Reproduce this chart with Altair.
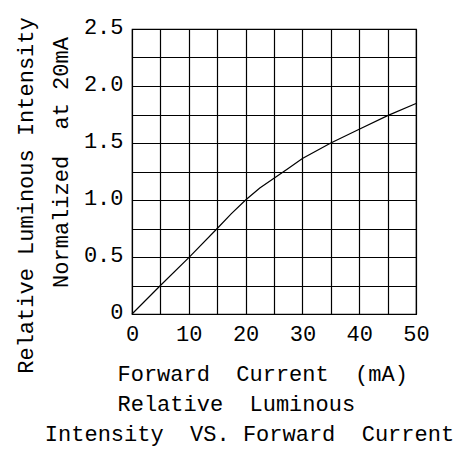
import altair as alt
import pandas as pd

# Forward current (mA) and relative luminous intensity
current = [0, 5, 10, 15, 17.5, 20, 22.5, 25, 27.5, 30, 35, 40, 45, 50]
intensity = [0, 0.25, 0.495, 0.75, 0.88, 1.0, 1.105, 1.19, 1.276, 1.364, 1.5, 1.62, 1.74, 1.847]

x_ticks = [0, 5, 10, 15, 20, 25, 30, 35, 40, 45, 50]
y_ticks = [0, 0.25, 0.5, 0.75, 1.0, 1.25, 1.5, 1.75, 2.0, 2.25, 2.5]

NB = "\u00a0"
ZW = "\u200b"  # keeps the padding spaces from being trimmed
x_title = [
    ZW + NB * 2 + "Forward" + NB * 2 + "Current" + NB * 2 + "(mA)",
    "Relative" + NB * 2 + "Luminous" + NB * 2 + ZW,
    "Intensity" + NB * 2 + "VS." + NB + "Forward" + NB * 2 + "Current",
]
y_title = [
    "Relative Luminous Intensity",
    ZW + NB * 5 + "Normalized" + NB * 2 + "at 20mA",
]

df = pd.DataFrame({"current": current, "intensity": intensity})

FONT = "Liberation Mono"

chart = (
    alt.Chart(df)
    .mark_line(color="black", strokeWidth=1.2)
    .encode(
        x=alt.X(
            "current:Q",
            scale=alt.Scale(domain=[0, 50], nice=False, zero=False),
            axis=alt.Axis(
                values=x_ticks,
                labelExpr="datum.value % 10 == 0 ? datum.label : ''",
                title=x_title,
                titleX=117,
                titleY=66,
                titleAlign="center",
                titleBaseline="alphabetic",
                titleLineHeight=30,
            ),
        ),
        y=alt.Y(
            "intensity:Q",
            scale=alt.Scale(domain=[0, 2.5], nice=False, zero=False),
            axis=alt.Axis(
                values=y_ticks,
                labelExpr="datum.value == 0 ? '0' : (round(datum.value * 4) % 2 == 0 ? format(datum.value, '.1f') : '')",
                title=y_title,
                titleAngle=270,
                titleX=-100,
                titleY=166,
                titleAlign="center",
                titleBaseline="alphabetic",
                titleLineHeight=35,
                labelOffset=-3,
            ),
        ),
    )
    .properties(
        width=284,
        height=285,
        autosize=alt.AutoSizeParams(type="none"),
        padding={"left": 132, "top": 29, "right": 50, "bottom": 136},
        background="white",
    )
    .configure_view(stroke="black", strokeWidth=1.2)
    .configure_axis(
        grid=True,
        gridColor="black",
        gridOpacity=1,
        gridWidth=1.2,
        domain=False,
        ticks=False,
        labelFont=FONT,
        labelFontSize=22,
        labelColor="black",
        labelPadding=9,
        labelOverlap=False,
        labelFlush=False,
        titleFont=FONT,
        titleFontSize=22,
        titleFontWeight="normal",
        titleColor="black",
    )
)

chart.save("out.html", embed_options={"renderer": "svg", "actions": False})
